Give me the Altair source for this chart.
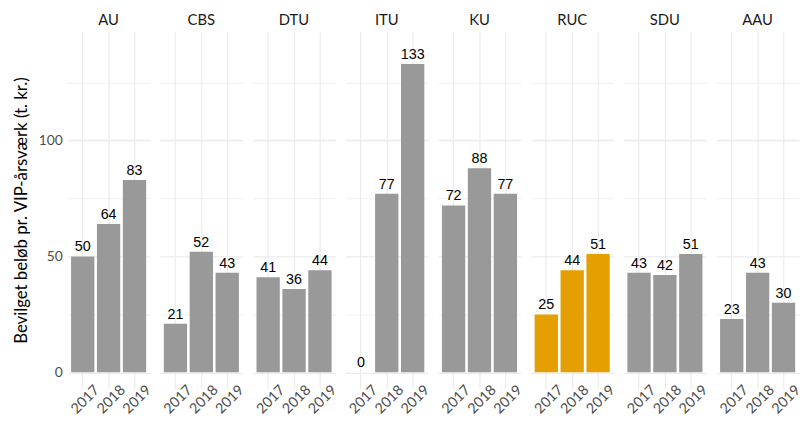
import altair as alt
import pandas as pd

universities = ["AU", "CBS", "DTU", "ITU", "KU", "RUC", "SDU", "AAU"]
years = ["2017", "2018", "2019"]
values = {
    "AU": [50, 64, 83],
    "CBS": [21, 52, 43],
    "DTU": [41, 36, 44],
    "ITU": [0, 77, 133],
    "KU": [72, 88, 77],
    "RUC": [25, 44, 51],
    "SDU": [43, 42, 51],
    "AAU": [23, 43, 30],
}
highlight_uni = "RUC"

rows = []
for u in universities:
    for y, v in zip(years, values[u]):
        rows.append({"uni": u, "year": y, "value": v,
                     "hl": "yes" if u == highlight_uni else "no"})
df = pd.DataFrame(rows)

grid_w = {"condition": {"test": "datum.value % 50 === 0", "value": 1.3}, "value": 0.7}

x_enc = alt.X("year:N", title=None, sort=years,
              scale=alt.Scale(paddingInner=0.1, paddingOuter=0.15),
              axis=alt.Axis(labelAngle=315, labelAlign="center", labelBaseline="middle",
                            labelPadding=11, labelOffset=3, ticks=False, domain=False,
                            grid=True, bandPosition=0.5, gridColor="#EBEBEB", gridWidth=1.2,
                            labelFont="Lato", labelFontSize=14.5, labelColor="#4D4D4D"))
y_enc = alt.Y("value:Q", title="Bevilget beløb pr. VIP-årsværk (t. kr.)",
              scale=alt.Scale(domain=[-7, 147], nice=False, zero=False),
              axis=alt.Axis(values=[0, 25, 50, 75, 100, 125],
                            labelExpr="datum.value % 50 === 0 ? datum.label : ''",
                            ticks=False, domain=False, grid=True, gridColor="#EBEBEB",
                            gridWidth=grid_w, labelPadding=5,
                            labelFont="Lato", labelFontSize=14, labelColor="#4D4D4D",
                            titleFont="Lato", titleFontSize=17, titleFontWeight="normal",
                            titleColor="#000000", titlePadding=8))

bars = alt.Chart().mark_bar().encode(
    x=x_enc,
    y=y_enc,
    y2=alt.datum(0),
    color=alt.Color("hl:N", scale=alt.Scale(domain=["no", "yes"], range=["#999999", "#E69F00"]),
                    legend=None),
)
labels = alt.Chart().mark_text(baseline="alphabetic", dy=-5, font="Liberation Sans",
                               fontSize=14.5, color="#000000").encode(
    x=alt.X("year:N", sort=years),
    y=alt.Y("value:Q"),
    text=alt.Text("value:Q", format=".0f"),
)

chart = alt.layer(bars, labels, data=df).properties(width=84, height=362).facet(
    column=alt.Column("uni:N", sort=universities, title=None,
                      header=alt.Header(labelFont="Lato", labelFontSize=15,
                                        labelColor="#1A1A1A", labelPadding=4)),
    spacing=10,
).configure_view(stroke=None).properties(
    padding={"left": 4, "top": 2, "right": 0, "bottom": 0}
)

chart.save("out.html", embed_options={"renderer": "svg", "actions": False})
